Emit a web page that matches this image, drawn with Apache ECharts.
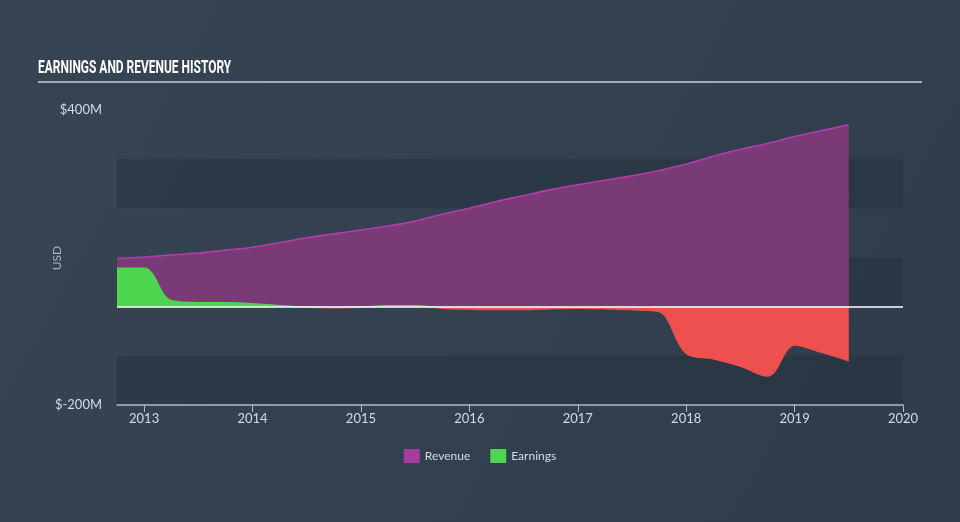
<!DOCTYPE html>
<html>
<head>
<meta charset="utf-8">
<script src="https://cdn.jsdelivr.net/npm/echarts@6/dist/echarts.min.js"></script>
<style>
html,body{margin:0;padding:0;background:#344150;}
#c{width:960px;height:522px;}
</style>
</head>
<body>
<div id="c"></div>
<script>
var periods = [2012.75,2013.0,2013.25,2013.5,2013.75,2014.0,2014.25,2014.5,2014.75,2015.0,2015.25,2015.5,2015.75,2016.0,2016.25,2016.5,2016.75,2017.0,2017.25,2017.5,2017.75,2018.0,2018.25,2018.5,2018.75,2019.0,2019.25,2019.5];
var revenue = [98,101,105,109,115,121,130,140,148,156,164,174,188,200,214,226,238,248,257,266,277,290,306,320,332,346,358,370];
var earnings = [78,78,12,8,8,6,2,-1,-2,-1,2,2,-3,-5,-6,-6,-4,-3,-4,-6,-10,-95,-106,-121,-141,-78,-93,-110];
var yearTicks = [2013,2014,2015,2016,2017,2018,2019,2020];
var yLabels = {'400':'$400M','-200':'$-200M'};

function pairs(xs, ys){ return xs.map(function(x,i){ return [x, ys[i]]; }); }

var chart = echarts.init(document.getElementById('c'), null, {renderer:'canvas'});
chart.setOption({
  backgroundColor: {
    type:'linear', x:0, y:0, x2:1, y2:1,
    colorStops:[{offset:0,color:'#364454'},{offset:1,color:'#2f3c4a'}]
  },
  animation:false,
  graphic:[
    {
      type:'text', left:38, top:59, scaleX:0.63, scaleY:1, originX:0, originY:0,
      style:{text:'EARNINGS AND REVENUE HISTORY', fill:'#ffffff', fontSize:19, fontWeight:'bold',
        fontFamily:'Roboto, Noto Sans, sans-serif'}
    },
    {
      type:'line', shape:{x1:38,y1:82,x2:922,y2:82},
      style:{stroke:'#a3acb5', lineWidth:2}
    },
    {
      type:'text', x:57, y:258, rotation:Math.PI/2,
      style:{text:'USD', fill:'#aab4bf', fontSize:12, fontFamily:'Lato, sans-serif', align:'center', verticalAlign:'middle'}
    }
  ],
  grid:{left:117, right:57, top:110, bottom:117},
  legend:{
    bottom:54, left:'center', itemWidth:16, itemHeight:14, itemGap:20,
    icon:'rect',
    textStyle:{color:'#d5dbe1', fontSize:12, fontFamily:'Lato, sans-serif'},
    data:[{name:'Revenue', itemStyle:{color:'#a63c9f'}},{name:'Earnings', itemStyle:{color:'#4fd651'}}]
  },
  xAxis:{
    type:'value', min:2012.75, max:2020,
    splitLine:{show:false},
    axisLine:{show:true, onZero:false, lineStyle:{color:'#aebbc8', width:1.5}},
    axisTick:{show:true, customValues:yearTicks, length:7, lineStyle:{color:'#aebbc8'}},
    axisLabel:{customValues:yearTicks, color:'#d5dbe1', fontSize:13, margin:7, fontFamily:'Lato, sans-serif',
      formatter:function(v){ return String(Math.round(v)); }}
  },
  yAxis:{
    type:'value', min:-200, max:400, interval:100,
    axisLine:{show:false}, axisTick:{show:false},
    splitLine:{show:false},
    splitArea:{show:true, areaStyle:{color:['rgba(20,30,42,0.22)','rgba(0,0,0,0)']}},
    axisLabel:{color:'#d5dbe1', fontSize:13, margin:15, fontFamily:'Lato, sans-serif',
      formatter:function(v){ return yLabels[String(v)] || ''; }}
  },
  visualMap:{
    show:false, type:'piecewise', seriesIndex:1, dimension:1,
    pieces:[{gte:-200, lt:0, color:'#ee5050'},{gte:0, lte:400, color:'#4fd651'}]
  },
  series:[
    {
      name:'Revenue', type:'line', data:pairs(periods, revenue),
      smooth:0.3, showSymbol:false, symbol:'none',
      lineStyle:{color:'#b53cab', width:1.6},
      itemStyle:{color:'#a63c9f'},
      areaStyle:{color:'#7a3a75', opacity:1}
    },
    {
      name:'Earnings', type:'line', data:pairs(periods, earnings),
      smooth:0.35, showSymbol:false, symbol:'none',
      lineStyle:{width:1.5},
      itemStyle:{color:'#4fd651'},
      areaStyle:{opacity:1},
      markLine:{
        silent:true, symbol:'none', label:{show:false},
        lineStyle:{color:'#ffffff', width:1.5, type:'solid'},
        data:[{yAxis:0}]
      }
    }
  ]
});
</script>
</body>
</html>
